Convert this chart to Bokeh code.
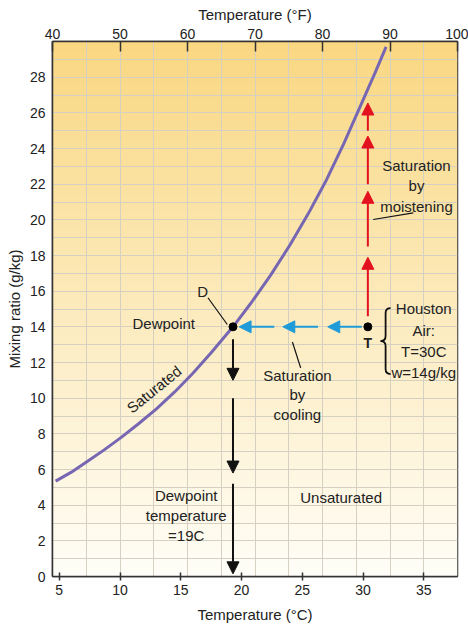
import numpy as np
from bokeh.plotting import figure
from bokeh.models import Range1d, LinearAxis, FixedTicker, Arrow, NormalHead, ColumnDataSource
from bokeh.core.properties import value
from bokeh.embed import file_html
from bokeh.resources import INLINE

# ---------------- data ----------------
curve_T = [4.7, 6.0, 7.3, 8.7, 10.1, 11.5, 13.0, 14.5, 16.0, 17.5, 19.3, 20.8, 22.4, 24.0, 25.5, 27.0, 28.4, 29.8, 31.0, 31.9]
curve_w = [5.35, 5.85, 6.45, 7.1, 7.8, 8.55, 9.4, 10.35, 11.4, 12.55, 14.0, 15.35, 16.9, 18.6, 20.35, 22.25, 24.25, 26.4, 28.25, 29.7]

houston_T, houston_w = 30.4, 14.0
dew_T, dew_w = 19.3, 14.0

cool_x_start = [29.9, 26.3, 22.7]
cool_x_end = [27.1, 23.4, 19.8]
moist_y_start = [14.6, 18.5, 22.0, 25.0]
moist_y_end = [17.9, 21.6, 24.7, 26.55]
down_y_start = [13.3, 10.0, 5.2]
down_y_end = [11.0, 5.8, 0.15]

c_ticks = [5, 10, 15, 20, 25, 30, 35]
f_ticks = [40, 50, 60, 70, 80, 90, 100]
f_grid = [45, 50, 55, 60, 65, 70, 75, 80, 85, 90, 95]
w_ticks = [0, 2, 4, 6, 8, 10, 12, 14, 16, 18, 20, 22, 24, 26, 28]
w_grid = list(range(1, 30))
F_MIN, F_MAX = 40, 100
W_MIN, W_MAX = 0, 30

FONT = value("Liberation Sans")
TXT = "#222222"


def f_to_c(f):
    return (f - 32) * 5.0 / 9.0


C_MIN, C_MAX = f_to_c(F_MIN), f_to_c(F_MAX)

p = figure(width=468, height=626, x_range=Range1d(C_MIN, C_MAX), y_range=Range1d(W_MIN, W_MAX),
           output_backend="svg", toolbar_location=None,
           min_border_left=52, min_border_right=11, min_border_top=41, min_border_bottom=50)
p.background_fill_color = "#FFFEF9"
p.border_fill_color = "white"
p.outline_line_color = "#333333"
p.outline_line_width = 1.5

# background gradient
N = 256
t = np.linspace(0, 1, N)
bot = np.array([255, 254, 248])
top = np.array([250, 216, 130])
cols = bot[None, :] * (1 - t[:, None]) + top[None, :] * t[:, None]
img = np.empty((N, 1), dtype=np.uint32)
view = img.view(dtype=np.uint8).reshape((N, 1, 4))
view[:, 0, 0] = cols[:, 0]
view[:, 0, 1] = cols[:, 1]
view[:, 0, 2] = cols[:, 2]
view[:, 0, 3] = 255
p.image_rgba(image=[img], x=C_MIN, y=W_MIN, dw=C_MAX - C_MIN, dh=W_MAX - W_MIN, level="image")

# grid
p.xgrid.ticker = FixedTicker(ticks=[f_to_c(f) for f in f_grid])
p.ygrid.ticker = FixedTicker(ticks=w_grid)
for g in (p.xgrid, p.ygrid):
    g.grid_line_color = "#D6D0C2"
    g.grid_line_width = 1

# axes
def style_axis(ax):
    ax.major_label_text_font = "Liberation Sans"
    ax.major_label_text_font_size = "14px"
    ax.major_label_text_color = TXT
    ax.axis_label_text_font = "Liberation Sans"
    ax.axis_label_text_font_size = "15px"
    ax.axis_label_text_font_style = "normal"
    ax.axis_label_text_color = TXT
    ax.axis_line_color = "#333333"
    ax.axis_line_width = 1.5
    ax.major_tick_line_color = "#333333"
    ax.major_tick_line_width = 1.5
    ax.minor_tick_line_color = None

xb = p.xaxis[0]
xb.ticker = FixedTicker(ticks=c_ticks)
xb.axis_label = "Temperature (°C)"
style_axis(xb)
xb.major_tick_in = 4
xb.major_tick_out = 4
xb.major_label_standoff = 4
xb.axis_label_standoff = 8

yl = p.yaxis[0]
yl.ticker = FixedTicker(ticks=w_ticks)
yl.axis_label = "Mixing ratio (g/kg)"
style_axis(yl)
yl.major_tick_in = 0
yl.major_tick_out = 0
yl.major_label_standoff = 7
yl.axis_label_standoff = 4

p.extra_x_ranges = {"F": Range1d(F_MIN, F_MAX)}
xt = LinearAxis(x_range_name="F", ticker=FixedTicker(ticks=f_ticks), axis_label="Temperature (°F)")
style_axis(xt)
xt.major_tick_in = 10
xt.major_tick_out = 0
xt.major_label_standoff = 3
xt.axis_label_standoff = 3
p.add_layout(xt, "above")

# saturation curve
p.line(curve_T, curve_w, line_width=3, color="#7767B2")

# arrows
def arrows(x0, y0, x1, y1, color):
    src = ColumnDataSource(dict(x0=x0, y0=y0, x1=x1, y1=y1))
    p.add_layout(Arrow(end=NormalHead(size=12, fill_color=color, line_color=color, line_width=1),
                       source=src, x_start="x0", y_start="y0", x_end="x1", y_end="y1",
                       line_color=color, line_width=2))

arrows([houston_T] * len(moist_y_start), moist_y_start, [houston_T] * len(moist_y_end), moist_y_end, "#E3121F")
arrows(cool_x_start, [houston_w] * len(cool_x_start), cool_x_end, [houston_w] * len(cool_x_end), "#1E9BD8")
arrows([dew_T] * len(down_y_start), down_y_start, [dew_T] * len(down_y_end), down_y_end, "#111111")

# points
p.scatter([dew_T, houston_T], [dew_w, houston_w], size=8, color="black")

# leader lines
p.segment(x0=[17.24, 24.19, 30.84], y0=[15.63, 13.15, 20.02],
          x1=[18.83, 24.87, 34.14], y1=[14.13, 11.7, 20.39], line_color="#111111", line_width=1.2)

# brace
bx_tip, bx_mid, bx_end = 31.45, 31.86, 32.27
by = [15.05, 14.77, 13.48, 13.2, 12.92, 11.63, 11.35]
p.quadratic(x0=[bx_end, bx_mid, bx_tip, bx_mid], y0=[by[0], by[2], by[3], by[5]],
            x1=[bx_mid, bx_tip, bx_mid, bx_end], y1=[by[1], by[3], by[4], by[6]],
            cx=[bx_mid, bx_mid, bx_mid, bx_mid], cy=[by[0], by[3], by[3], by[6]],
            line_color="#111111", line_width=1.8)
p.segment(x0=[bx_mid, bx_mid], y0=[by[1], by[4]], x1=[bx_mid, bx_mid], y1=[by[2], by[5]],
          line_color="#111111", line_width=1.8)

# texts
def txt(x, y, s, size="15px", angle=0.0, style="normal", lh=1.2):
    p.text(x=[x], y=[y], text=[s], text_font=FONT, text_font_size=size, text_color=TXT,
           text_align="center", text_baseline="middle", angle=angle, text_font_style=style,
           text_line_height=lh)

txt(16.8, 16.0, "D")
txt(13.6, 14.2, "Dewpoint")
txt(12.8, 10.5, "Saturated", angle=0.68)
txt(24.6, 10.18, "Saturation\nby\ncooling", lh=1.17)
txt(34.4, 21.9, "Saturation\nby\nmoistening", lh=1.2)
txt(35.0, 13.22, "Houston\nAir:\nT=30C\nw=14g/kg", lh=1.25)
txt(houston_T, 13.1, "T", size="14px", style="bold")
txt(15.45, 3.44, "Dewpoint\ntemperature\n=19C", lh=1.17)
txt(28.2, 4.43, "Unsaturated")

open("out.html", "w").write(file_html(p, INLINE))
